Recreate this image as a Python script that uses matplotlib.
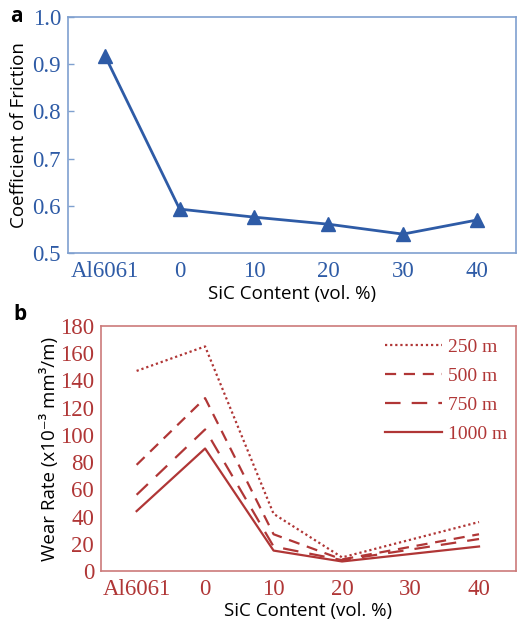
import numpy as np
import matplotlib

matplotlib.use("Agg")
import matplotlib.pyplot as plt


categories = ["Al6061", "0", "10", "20", "30", "40"]

# friction coefficient, one value per category
cof = [0.917, 0.593, 0.576, 0.561, 0.540, 0.570]

# wear rate (x1e-3 mm3/m); measured at Al6061, 0, 10, 20 and 40 vol.% SiC
wear_cats = ["Al6061", "0", "10", "20", "40"]
wear_250 = [147, 165, 42, 10, 36]
wear_500 = [78, 127, 27, 8.5, 27]
wear_750 = [56, 104, 18, 8, 23.5]
wear_1000 = [44, 90, 15, 7, 18]
distances = ["250 m", "500 m", "750 m", "1000 m"]

blue = "#2e5ba6"
blue_spine = "#7fa0cf"
red = "#b03636"
red_spine = "#cc7a7a"

serif = ["Liberation Serif", "DejaVu Serif"]
sans = ["Open Sans", "DejaVu Sans"]

W, H = 517, 624
fig = plt.figure(figsize=(W / 100, H / 100), dpi=100)


def px_axes(left, top, right, bottom):
    return fig.add_axes([left / W, 1 - bottom / H, (right - left) / W, (bottom - top) / H])


x_pos = np.arange(len(categories))

# ---- panel a: coefficient of friction ----
ax1 = px_axes(68, 17, 516, 253)
ax1.plot(x_pos, cof, color=blue, lw=2, marker="^", ms=9.5)
ax1.set_xlim(-0.5, 5.52)
ax1.set_ylim(0.5, 1.0)
ax1.set_yticks([0.5, 0.6, 0.7, 0.8, 0.9, 1.0])
ax1.set_yticklabels(["0.5", "0.6", "0.7", "0.8", "0.9", "1.0"])
ax1.set_xticks(x_pos)
ax1.set_xticklabels(categories)
ax1.tick_params(axis="y", direction="in", length=4, width=1, color=blue_spine, pad=5)
ax1.tick_params(axis="x", length=0, pad=6)
for lab in ax1.get_xticklabels() + ax1.get_yticklabels():
    lab.set_family(serif)
    lab.set_fontsize(16.5)
    lab.set_color(blue)
for sp in ax1.spines.values():
    sp.set_color(blue_spine)
    sp.set_linewidth(1.2)
ax1.set_ylabel("Coefficient of Friction", family=sans, fontsize=13.5, labelpad=3)
ax1.set_xlabel("SiC Content (vol. %)", family=sans, fontsize=13.5, labelpad=2)
fig.text(16 / W, 1 - 17 / H, "a", family=sans, fontsize=15, fontweight="bold",
         ha="center", va="center")

# ---- panel b: wear rate ----
ax2 = px_axes(101, 326, 516, 571)
wx = [categories.index(c) for c in wear_cats]
styles = [(0, (1, 1.3)), (0, (5, 3.5)), (0, (7, 5)), "-"]
for vals, ls, name in zip([wear_250, wear_500, wear_750, wear_1000], styles, distances):
    ax2.plot(wx, vals, color=red, lw=1.6, linestyle=ls, label=name)
ax2.set_xlim(-0.52, 5.54)
ax2.set_ylim(0, 180)
ax2.set_yticks(np.arange(0, 181, 20))
ax2.set_xticks(x_pos)
ax2.set_xticklabels(categories)
ax2.tick_params(length=0)
ax2.tick_params(axis="y", pad=5)
ax2.tick_params(axis="x", pad=6)
for lab in ax2.get_xticklabels() + ax2.get_yticklabels():
    lab.set_family(serif)
    lab.set_fontsize(16.5)
    lab.set_color(red)
for sp in ax2.spines.values():
    sp.set_color(red_spine)
    sp.set_linewidth(1.2)
ax2.set_ylabel("Wear Rate (x10\u207b\u00b3 mm\u00b3/m)", family=sans, fontsize=13.5, labelpad=1)
ax2.set_xlabel("SiC Content (vol. %)", family=sans, fontsize=13.5, labelpad=1)

leg = ax2.legend(loc="upper right", frameon=False, handlelength=2.9, handletextpad=0.3,
                 labelspacing=0.58, prop={"family": serif, "size": 14},
                 bbox_to_anchor=(1.02, 1.02))
for t in leg.get_texts():
    t.set_color(red)
fig.text(20 / W, 1 - 315 / H, "b", family=sans, fontsize=15, fontweight="bold",
         ha="center", va="center")

fig.savefig("out.png", dpi=100)
